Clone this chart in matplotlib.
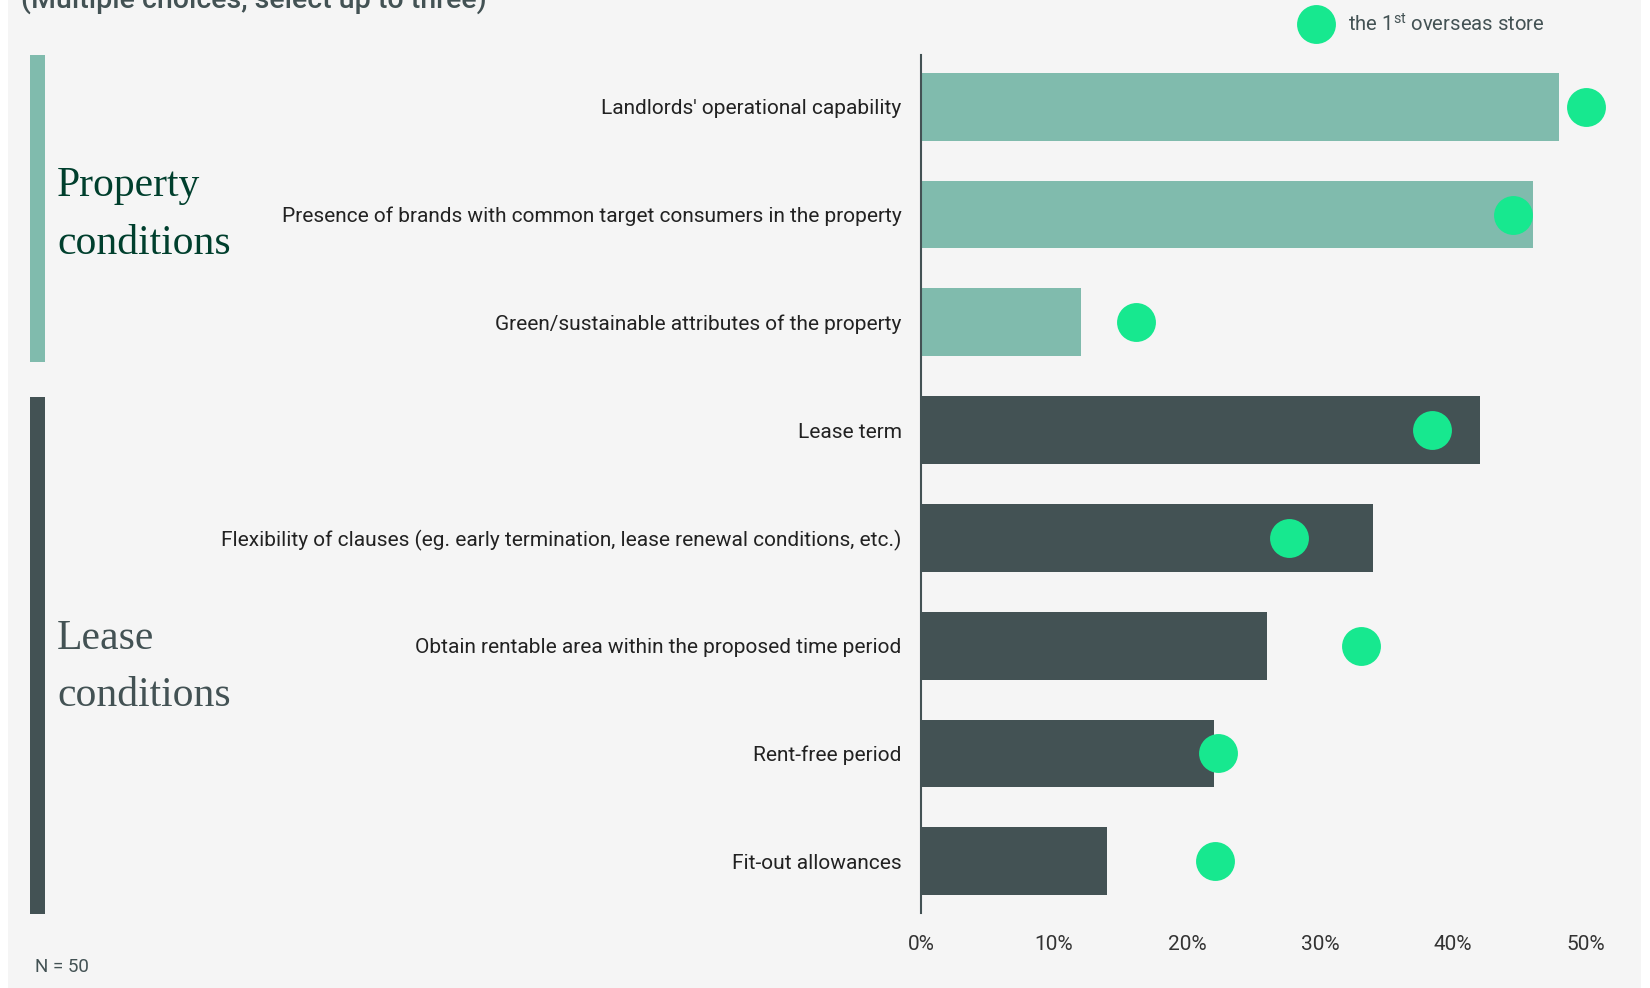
import matplotlib
matplotlib.use("Agg")
import matplotlib.pyplot as plt
import matplotlib.transforms as mtransforms
from matplotlib.patches import Rectangle
from matplotlib.lines import Line2D
import numpy as np

plt.rcParams['font.family'] = ['Roboto', 'DejaVu Sans']
plt.rcParams['mathtext.fontset'] = 'custom'
plt.rcParams['mathtext.rm'] = 'Roboto'
plt.rcParams['mathtext.it'] = 'Roboto'

# survey factors, top to bottom
factors = [
    "Landlords' operational capability",
    "Presence of brands with common target consumers in the property",
    "Green/sustainable attributes of the property",
    "Lease term",
    "Flexibility of clauses (eg. early termination, lease renewal conditions, etc.)",
    "Obtain rentable area within the proposed time period",
    "Rent-free period",
    "Fit-out allowances",
]
groups = ["Property", "Property", "Property", "Lease", "Lease", "Lease", "Lease", "Lease"]
all_share = [48, 46, 12, 42, 34, 26, 22, 14]                 # all respondents, %
first_store = [50, 44.5, 16.2, 38.4, 27.7, 33.1, 22.3, 22.1]  # the 1st overseas store, %
xticks = [0, 10, 20, 30, 40, 50]

BG = "#f5f5f5"
PROP = "#80bbad"
LEASE = "#435254"
DOT = "#17e88f"
DARKGREEN = "#003f2d"

W, H = 1650, 988
fig = plt.figure(figsize=(W / 100, H / 100), dpi=100, facecolor="white")
fig.add_artist(Rectangle((8 / W, 0), (1641 - 8) / W, 1, transform=fig.transFigure,
                         facecolor=BG, edgecolor="none", zorder=-10))

ax = fig.add_axes([921 / W, 75 / H, (1586 - 921) / W, 858 / H])
ax.set_facecolor(BG)
ax.patch.set_alpha(0)

y = np.arange(len(factors))
colors = [PROP if g == "Property" else LEASE for g in groups]
ax.barh(y, all_share, height=0.63, color=colors, zorder=2)
ax.plot(first_store, y, "o", ms=28, color=DOT, mec="none", clip_on=False, zorder=3)

ax.set_xlim(0, 50)
ax.set_ylim(7.48, -0.48)
ax.set_xticks(xticks)
ax.set_xticklabels([f"{t}%" for t in xticks], fontsize=15, color="#333333")
ax.set_yticks(y)
ax.set_yticklabels(factors, fontsize=15.0, color="#222222")
ax.tick_params(axis="x", length=0, pad=16)
ax.tick_params(axis="y", length=0, pad=14)
for s in ["top", "right", "bottom"]:
    ax.spines[s].set_visible(False)
ax.spines["left"].set_color(LEASE)
ax.spines["left"].set_linewidth(1.5)

# group brackets on the left
trans = mtransforms.blended_transform_factory(fig.transFigure, ax.transData)
ax.add_patch(Rectangle((30 / W, -0.48), 15 / W, 2.85, transform=trans,
                       facecolor=PROP, edgecolor="none", clip_on=False))
ax.add_patch(Rectangle((30 / W, 2.69), 15 / W, 4.8, transform=trans,
                       facecolor=LEASE, edgecolor="none", clip_on=False))
ax.text(57 / W, 1.0, "Property\nconditions", transform=trans, ha="left", va="center",
        fontsize=30, family="Liberation Serif", color=DARKGREEN, linespacing=1.65)
ax.text(57 / W, 5.2, "Lease\nconditions", transform=trans, ha="left", va="center",
        fontsize=30, family="Liberation Serif", color=LEASE, linespacing=1.65)

# legend
fig.add_artist(Line2D([1316 / W], [1 - 24 / H], marker="o", ms=28, color=DOT, mec="none",
                      transform=fig.transFigure))
fig.text(1348 / W, 1 - 24 / H, r"the 1$^{\mathrm{st}}$ overseas store", ha="left", va="center",
         fontsize=14.6, color=LEASE)

fig.text(21 / W, 1 - 8 / H, "(Multiple choices, select up to three)", ha="left", va="baseline",
         fontsize=20.5, fontweight="medium", color=LEASE)
fig.text(35 / W, 21 / H, "N = 50", ha="left", va="center", fontsize=13.5, color=LEASE)

fig.savefig("out.png", dpi=100, facecolor=fig.get_facecolor())
